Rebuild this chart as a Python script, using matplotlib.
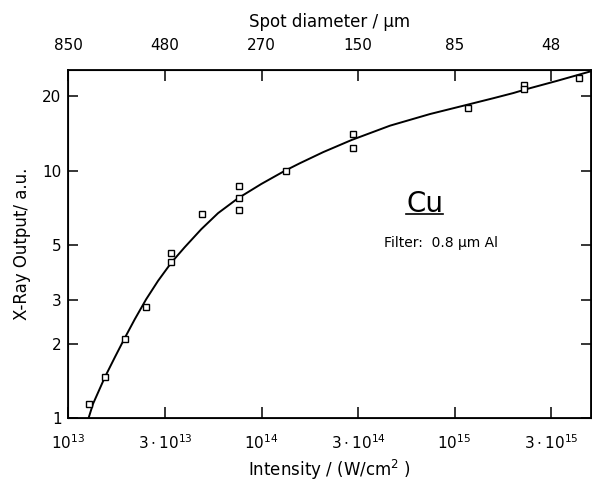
import numpy as np
import matplotlib.pyplot as plt

# measured points (intensity in W/cm^2, output in a.u.)
intensity = [1.27e13, 1.55e13, 1.96e13, 2.52e13, 3.40e13, 3.40e13, 4.90e13,
             7.62e13, 7.62e13, 7.62e13, 1.334e14, 2.97e14, 2.97e14, 1.18e15,
             2.29e15, 2.29e15, 4.43e15]
xray_out = [1.14, 1.47, 2.09, 2.81, 4.67, 4.29, 6.72,
            8.67, 7.80, 6.93, 10.0, 14.1, 12.4, 18.0,
            22.2, 21.5, 23.8]

# hand drawn fit curve (log10 values)
curve_logx = [13.101, 13.127, 13.189, 13.241, 13.289, 13.343, 13.402, 13.464,
              13.533, 13.602, 13.688, 13.775, 13.878, 13.999, 14.120, 14.199,
              14.320, 14.467, 14.666, 14.873, 15.063, 15.201, 15.305, 15.374,
              15.530, 15.702]
curve_logy = [-0.008, 0.057, 0.166, 0.247, 0.320, 0.399, 0.480, 0.555,
              0.629, 0.691, 0.764, 0.829, 0.889, 0.947, 1.000, 1.031,
              1.076, 1.125, 1.183, 1.230, 1.267, 1.294, 1.315, 1.331,
              1.364, 1.402]

# tick positions and labels
tick_pos = [1e13, 10**13.5, 1e14, 10**14.5, 1e15, 10**15.5]
bottom_labels = [r'$10^{13}$', r'$3\cdot10^{13}$', r'$10^{14}$',
                 r'$3\cdot10^{14}$', r'$10^{15}$', r'$3\cdot10^{15}$']
top_labels = ['850', '480', '270', '150', '85', '48']
y_ticks = [1, 2, 3, 5, 10, 20]

fig = plt.figure(figsize=(5.92, 4.82), dpi=100)
ax = fig.add_axes([0.1157, 0.1328, 0.8826, 0.722])

ax.plot(10 ** np.array(curve_logx), 10 ** np.array(curve_logy), color='black', lw=1.4)
ax.plot(intensity, xray_out, linestyle='none', marker='s', markersize=5,
        markerfacecolor='white', markeredgecolor='black', markeredgewidth=1.0)

ax.set_xscale('log')
ax.set_yscale('log')
ax.set_xlim(1e13, 10 ** 15.707)
ax.set_ylim(1, 25.6)

ax.set_xticks(tick_pos)
ax.set_xticklabels(bottom_labels, fontsize=11)
ax.set_yticks(y_ticks)
ax.set_yticklabels([str(v) for v in y_ticks], fontsize=11)
ax.minorticks_off()
ax.tick_params(direction='in', length=8, width=1.1, right=True, pad=6)
ax.tick_params(axis='x', pad=11)
ax.tick_params(axis='y', length=7, pad=5)

for s in ax.spines.values():
    s.set_linewidth(1.3)

ax.set_xlabel('Intensity / (W/cm$^2$ )', fontsize=12, labelpad=4)
ax.set_ylabel('X-Ray Output/ a.u.', fontsize=12, labelpad=8)

top = ax.twiny()
top.set_xscale('log')
top.set_xlim(ax.get_xlim())
top.set_xticks(tick_pos)
top.set_xticklabels(top_labels, fontsize=11)
top.minorticks_off()
top.tick_params(direction='in', length=8, width=1.1, pad=12)
top.set_xlabel('Spot diameter / µm', fontsize=12, labelpad=8)

ax.text(0.683, 0.615, 'Cu', transform=ax.transAxes, fontsize=20, ha='center', va='center')
ax.plot([0.646, 0.717], [0.586, 0.586], transform=ax.transAxes, color='black', lw=1.2)
ax.text(0.712, 0.503, 'Filter:  0.8 µm Al', transform=ax.transAxes, fontsize=10,
        ha='center', va='center')

fig.savefig('out.png', dpi=100)
